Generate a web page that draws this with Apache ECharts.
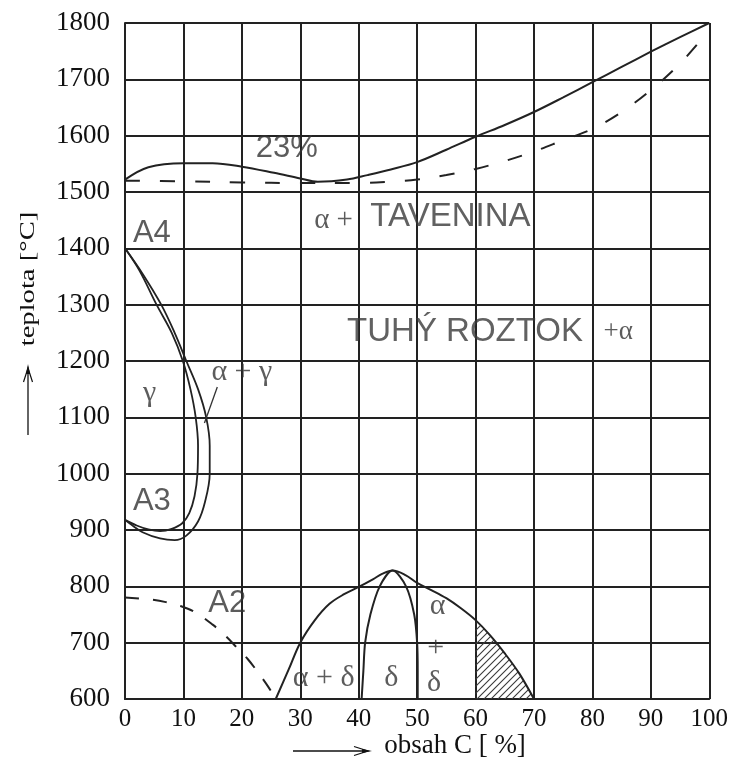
<!DOCTYPE html>
<html>
<head>
<meta charset="utf-8">
<script src="https://cdn.jsdelivr.net/npm/echarts@6/dist/echarts.min.js"></script>
<style>
  html, body { margin: 0; padding: 0; background: #fff; }
  #chart { width: 731px; height: 758px; }
</style>
</head>
<body>
<div id="chart"></div>
<script>
// Axis ranges: composition in % C, temperature in °C
const xAxisRange = { min: 0, max: 100, step: 10 };
const yAxisRange = { min: 600, max: 1800, step: 100 };

// Liquidus (solid) across the whole composition range
const liquidus = [[0,1522],[4,1544],[10,1551],[15,1551],[20,1545],[25.5,1534],[30,1524],[33,1518],[38,1522],[41.5,1530],[45.5,1540],[50,1553],[55,1575],[60,1598],[65,1619],[70,1642],[75,1668],[80,1695],[85,1722],[90,1749],[95,1775],[100,1800]];

// Solidus (dashed)
const solidus = [[0,1520],[10,1519],[20,1517],[30,1516],[40,1516],[45,1518],[50,1522],[55,1530],[60,1541],[65,1555],[70,1572],[75,1592],[80,1612],[85,1642],[90,1681],[95,1728],[99,1775]];

// γ loop between A4 and A3: inner and outer boundary
const gammaInner = [[0,1400],[2.5,1360],[5.4,1300],[8,1250],[9.9,1200],[11.2,1150],[12.1,1100],[12.5,1050],[12.4,1000],[11.9,960],[11,930],[9.8,912],[8,902],[6,898],[4,901],[2,908],[0,918]];
const gammaOuter = [[0,1400],[3,1355],[6.2,1300],[8.5,1250],[10.5,1200],[12.5,1150],[13.9,1100],[14.5,1050],[14.5,1000],[13.7,950],[12.5,915],[10.5,890],[8.5,882],[6,885],[3,896],[1,910],[0,918]];

// Leader from the "α + γ" label into the two-phase band
const gammaLeader = [[15.8,1154],[13.6,1090]];

// A2 magnetic transition (dashed)
const a2Line = [[0,780],[4,777],[7,772],[9.5,765],[12,754],[15,732],[17,714],[19,693],[21,671],[23,644],[24.5,622],[25.8,600]];

// Ordered δ dome and the δ single-phase arch inside it
const dome = [[25.8,600],[28,652],[30,700],[32.5,740],[35,769],[37.5,786],[40,799],[42.5,813],[44,822],[45.8,828],[48,820],[50,806],[52.5,793],[55,779],[57.5,761],[60,740],[62.5,713],[65,681],[67.5,645],[70,600]];
const deltaArch = [[40.5,600],[40.8,650],[41.1,700],[42,750],[43.6,800],[45.8,828],[48.1,800],[49.5,750],[50,700],[50.1,650],[50.1,600]];

// Hatched part of the dome, from 60 % C to its right foot
const shadedFrom = 60;

// Region labels: [text, x, y, kind]
const regionLabels = [
  ['23%', 27.7, 1577, 'sans'],
  ['A4', 4.6, 1426, 'sans'],
  ['A3', 4.6, 950, 'sans'],
  ['A2', 17.5, 770, 'sans'],
  ['α +', 35.7, 1450, 'greekMid'],
  ['TAVENINA', 55.7, 1455, 'big'],
  ['TUHÝ ROZTOK', 58.2, 1252, 'big'],
  ['+α', 84.4, 1252, 'greekSmall'],
  ['γ', 4.2, 1143, 'greek'],
  ['α + γ', 20, 1181, 'greek'],
  ['α + δ', 34, 637, 'greek'],
  ['δ', 45.6, 637, 'greek'],
  ['α', 53.5, 764, 'greek'],
  ['+', 53.2, 690, 'greek'],
  ['δ', 52.9, 628, 'greek']
];

const SERIF = '"Liberation Serif", "Times New Roman", serif';
const SANS = '"Liberation Sans", Arial, sans-serif';
const INK = '#222';

const labelStyles = {
  sans:       { fontFamily: SANS,  fontSize: 31, color: '#333' },
  big:        { fontFamily: SANS,  fontSize: 33, color: '#3a3a3a' },
  greek:      { fontFamily: SERIF, fontSize: 30, color: '#333' },
  greekMid:   { fontFamily: SERIF, fontSize: 29, color: '#333' },
  greekSmall: { fontFamily: SERIF, fontSize: 27, color: '#333' }
};

function hatchPattern() {
  const s = 7;
  const c = document.createElement('canvas');
  c.width = s; c.height = s;
  const g = c.getContext('2d');
  g.strokeStyle = '#3a3a3a';
  g.lineWidth = 1.1;
  g.beginPath();
  g.moveTo(0, s); g.lineTo(s, 0);
  g.moveTo(-2, 2); g.lineTo(2, -2);
  g.moveTo(s - 2, s + 2); g.lineTo(s + 2, s - 2);
  g.stroke();
  return c;
}

function curve(data, opts) {
  return Object.assign({
    type: 'line',
    data: data,
    showSymbol: false,
    symbol: 'none',
    smooth: 0.35,
    silent: true,
    lineStyle: { color: INK, width: 2 },
    z: 3
  }, opts || {});
}

const chart = echarts.init(document.getElementById('chart'), null, { renderer: 'canvas' });

chart.setOption({
  animation: false,
  backgroundColor: '#fff',
  grid: { left: 125, right: 17, top: 23, bottom: 59, containLabel: false },
  xAxis: {
    type: 'value',
    min: xAxisRange.min, max: xAxisRange.max, interval: xAxisRange.step,
    axisLine: { show: true, onZero: false, lineStyle: { color: INK, width: 2 } },
    axisTick: { show: false },
    axisLabel: { color: '#111', fontFamily: SERIF, fontSize: 25, margin: 8, formatter: v => String(v) },
    splitLine: { show: true, lineStyle: { color: INK, width: 2 } }
  },
  yAxis: {
    type: 'value',
    min: yAxisRange.min, max: yAxisRange.max, interval: yAxisRange.step,
    axisLine: { show: true, onZero: false, lineStyle: { color: INK, width: 2 } },
    axisTick: { show: false },
    axisLabel: { color: '#111', fontFamily: SERIF, fontSize: 27, margin: 15, formatter: v => String(v) },
    splitLine: { show: true, lineStyle: { color: INK, width: 2 } }
  },
  series: [
    curve(liquidus),
    curve(solidus, { lineStyle: { color: INK, width: 2, type: [15, 20] } }),
    curve(gammaInner, { lineStyle: { color: INK, width: 1.8 } }),
    curve(gammaOuter, { lineStyle: { color: INK, width: 1.8 } }),
    curve(gammaLeader, { smooth: false, lineStyle: { color: '#333', width: 1.3 } }),
    curve(a2Line, { lineStyle: { color: INK, width: 2, type: [14, 14] } }),
    curve(dome.filter(p => p[0] >= shadedFrom), {
      lineStyle: { width: 0, opacity: 0 },
      areaStyle: { origin: 'start', color: { image: hatchPattern(), repeat: 'repeat' }, opacity: 1 },
      z: 2
    }),
    curve(dome),
    curve(deltaArch, { smooth: 0.3 }),
    {
      type: 'scatter',
      silent: true,
      symbolSize: 0,
      z: 5,
      data: regionLabels.map(([text, x, y, kind]) => ({
        value: [x, y],
        name: text,
        label: Object.assign({ show: true, position: 'inside', formatter: text }, labelStyles[kind])
      }))
    }
  ],
  graphic: [
    // axis titles with their arrows
    {
      type: 'text', x: 455, y: 746,
      style: { text: 'obsah C [ %]', font: '27px ' + SERIF, fill: '#111', align: 'center', verticalAlign: 'middle' }
    },
    { type: 'line', shape: { x1: 293, y1: 751, x2: 364, y2: 751 }, style: { stroke: '#111', lineWidth: 1.3 } },
    { type: 'polyline', shape: { points: [[354, 746.5], [368, 751], [354, 755.5]] }, style: { stroke: '#111', lineWidth: 1.2, fill: null } },
    { type: 'polygon', shape: { points: [[362, 749], [372, 751], [362, 753]] }, style: { fill: '#111' } },
    {
      type: 'text', x: 28, y: 279, rotation: Math.PI / 2, scaleX: 1.3,
      style: { text: 'teplota [°C]', font: '22px ' + SERIF, fill: '#111', align: 'center', verticalAlign: 'middle' }
    },
    { type: 'line', shape: { x1: 28, y1: 435, x2: 28, y2: 370 }, style: { stroke: '#111', lineWidth: 1.3 } },
    { type: 'polyline', shape: { points: [[23.5, 382], [28, 368], [32.5, 382]] }, style: { stroke: '#111', lineWidth: 1.2, fill: null } },
    { type: 'polygon', shape: { points: [[26, 374], [28, 364], [30, 374]] }, style: { fill: '#111' } }
  ]
});
</script>
</body>
</html>
